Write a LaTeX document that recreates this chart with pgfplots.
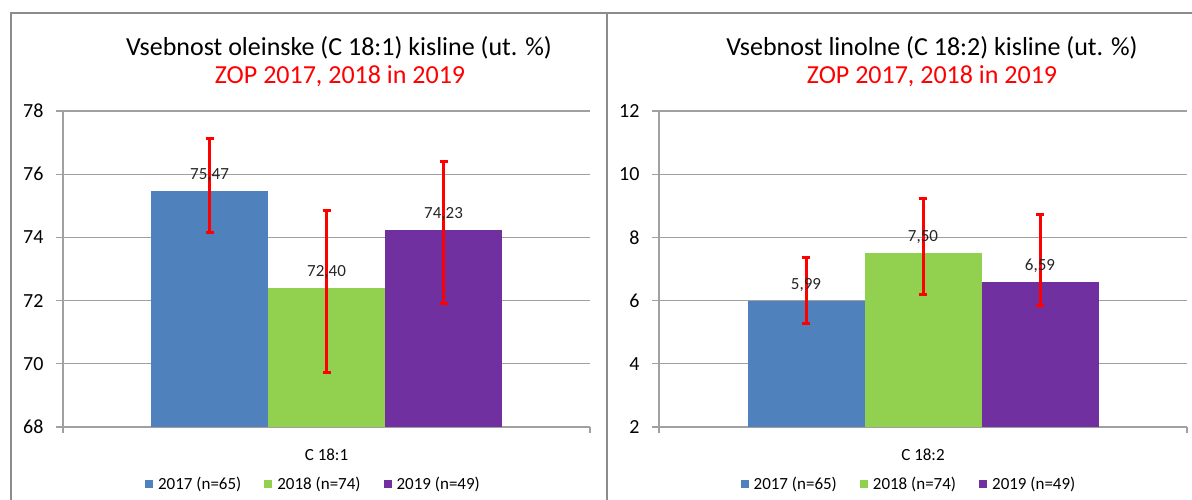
\documentclass[border=0pt]{standalone}
\usepackage{fontspec}
\setmainfont{Carlito}
\usepackage{pgfplots}
\pgfplotsset{compat=1.18}
\definecolor{cblue}{HTML}{4F81BD}
\definecolor{cgreen}{HTML}{92D050}
\definecolor{cpurple}{HTML}{7030A0}
\definecolor{gridgray}{HTML}{A0A0A0}
\definecolor{framegray}{HTML}{8C8C8C}
\definecolor{errred}{HTML}{FF0000}
\pgfplotsset{
  mybars/.style={
    scale only axis, width=527pt, height=316pt,
    ybar=0pt, bar width=117pt,
    xmin=-1, xmax=1,
    axis x line*=bottom, axis y line*=left,
    axis line style={draw=gridgray, line width=1.2pt, -},
    ymajorgrids, grid style={draw=gridgray, line width=1.2pt},
    tick align=outside, major tick length=7pt,
    ytick style={draw=gridgray, line width=1.2pt},
    xtick={0}, xtick style={draw=none},
    extra x ticks={-1,1}, extra x tick labels={},
    extra x tick style={major tick length=6pt, xtick style={draw=gridgray, line width=1.2pt}, grid=none},
    yticklabel style={font=\fontsize{20}{24}\selectfont, text=black, xshift=-9pt},
    xticklabel style={font=\fontsize{17}{20}\selectfont, text=black, yshift=-11pt},
    /pgf/number format/assume math mode=true,
    nodes near coords,
    nodes near coords style={font=\fontsize{17}{20}\selectfont, anchor=base, yshift=11.5pt, text=black!85,
      /pgf/number format/.cd, fixed, fixed zerofill, precision=2, use comma, assume math mode=true},
    error bars/y dir=both, error bars/y explicit,
    error bars/error bar style={draw=errred, line width=3pt},
    error bars/error mark options={draw=errred, line width=3pt, mark size=4pt, rotate=90},
    legend image code/.code={\fill[#1, draw=none] (0pt,-4pt) rectangle (8pt,4pt);},
    legend style={draw=none, fill=none, legend columns=3, anchor=center,
      font=\fontsize{17}{20}\selectfont,
      /tikz/every even column/.append style={column sep=23pt},
      /tikz/every odd column/.append style={column sep=5pt},
      nodes={inner sep=0pt}},
  }
}
\begin{document}
\begin{tikzpicture}[x=1pt,y=1pt]
\path[use as bounding box] (0pt,0pt) rectangle (1192pt,499pt);
% frames
\draw[framegray, line width=1.3pt] (11pt,-5pt) -- (11pt,486pt) -- (607pt,486pt) -- (607pt,-5pt);
\draw[framegray, line width=1.3pt] (607pt,486pt) -- (1200pt,486pt);
% titles
\node[anchor=base, font=\fontsize{26}{30}\selectfont] at (339pt,443pt) {Vsebnost oleinske (C 18:1) kisline (ut. \%)};
\node[anchor=base, font=\fontsize{26}{30}\selectfont, text=errred] at (340pt,415pt) {ZOP 2017, 2018 in 2019};
\node[anchor=base, font=\fontsize{26}{30}\selectfont] at (932pt,443pt) {Vsebnost linolne (C 18:2) kisline (ut. \%)};
\node[anchor=base, font=\fontsize{26}{30}\selectfont, text=errred] at (932pt,415pt) {ZOP 2017, 2018 in 2019};

\begin{axis}[mybars, at={(63pt,72pt)}, anchor=south west,
  ymin=68, ymax=78, ytick={68,70,72,74,76,78},
  xticklabels={C 18:1},
  legend style={at={(0.4734,-0.1804)}}]
\addplot[fill=cblue, draw=none] coordinates {(0,75.47) += (0,1.67) -= (0,1.31)};
\addplot[fill=cgreen, draw=none] coordinates {(0,72.40) += (0,2.44) -= (0,2.68)};
\addplot[fill=cpurple, draw=none] coordinates {(0,74.23) += (0,2.18) -= (0,2.31)};
\legend{2017 (n=65), 2018 (n=74), 2019 (n=49)}
\end{axis}

\begin{axis}[mybars, at={(659pt,72pt)}, anchor=south west, width=528pt,
  ymin=2, ymax=12, ytick={2,4,6,8,10,12},
  xticklabels={C 18:2},
  legend style={at={(0.4716,-0.1804)}}]
\addplot[fill=cblue, draw=none] coordinates {(0,5.99) += (0,1.38) -= (0,0.71)};
\addplot[fill=cgreen, draw=none] coordinates {(0,7.50) += (0,1.73) -= (0,1.32)};
\addplot[fill=cpurple, draw=none] coordinates {(0,6.59) += (0,2.13) -= (0,0.76)};
\legend{2017 (n=65), 2018 (n=74), 2019 (n=49)}
\end{axis}
\end{tikzpicture}
\end{document}
